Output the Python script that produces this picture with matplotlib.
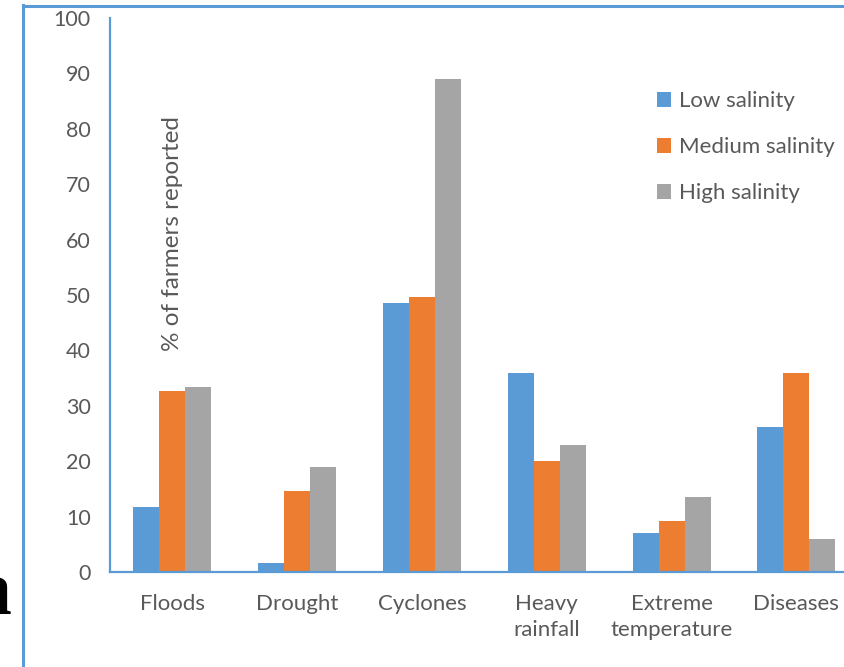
import matplotlib
matplotlib.use('Agg')
import matplotlib.pyplot as plt
from matplotlib.lines import Line2D
import numpy as np

categories = ['Floods', 'Drought', 'Cyclones', 'Heavy\nrainfall', 'Extreme\ntemperature', 'Diseases']
low_salinity = [11.8, 1.6, 48.6, 35.9, 7.0, 26.2]
medium_salinity = [32.7, 14.6, 49.6, 20.0, 9.2, 35.9]
high_salinity = [33.4, 19.0, 89.0, 22.9, 13.5, 6.0]
series_names = ['Low salinity', 'Medium salinity', 'High salinity']
colors = ['#5B9BD5', '#ED7D31', '#A5A5A5']
yticks = list(range(0, 101, 10))

plt.rcParams['font.family'] = ['Lato', 'DejaVu Sans']
text_col = '#595959'
axis_col = '#5B9BD5'

fig = plt.figure(figsize=(8.45, 6.67), dpi=100)
ax = fig.add_axes([110 / 845, 95 / 667, 748.8 / 845, 554 / 667])

x = np.arange(len(categories))
w = 0.208
for i, (vals, name) in enumerate(zip([low_salinity, medium_salinity, high_salinity], series_names)):
    ax.bar(x + (i - 1) * w, vals, width=w, color=colors[i], label=name)

ax.set_xlim(-0.5, len(categories) - 0.5)
ax.set_ylim(0, 100)
ax.set_yticks(yticks)
ax.set_xticks(x)
ax.set_xticklabels(categories, linespacing=1.38)
ax.tick_params(axis='both', length=0, colors=text_col)
ax.tick_params(axis='y', labelsize=15.5, pad=14)
ax.tick_params(axis='x', labelsize=16, pad=16)
for s in ['top', 'right']:
    ax.spines[s].set_visible(False)
for s in ['left', 'bottom']:
    ax.spines[s].set_color(axis_col)
    ax.spines[s].set_linewidth(1.6)

ax.text(0, 61, '% of farmers reported', rotation=90, ha='center', va='center',
        fontsize=17.5, color=text_col)

leg = ax.legend(loc='upper left', bbox_to_anchor=(637 / 845, 1 - 71 / 667),
                bbox_transform=fig.transFigure, frameon=False, fontsize=16,
                handlelength=0.65, handleheight=0.65, handletextpad=0.35,
                labelspacing=1.17)
for t in leg.get_texts():
    t.set_color(text_col)

# outer frame lines of the cropped panel
fig.add_artist(Line2D([23 / 845, 23 / 845], [0, 1 - 5 / 667], color=axis_col, lw=2.2,
                      transform=fig.transFigure))
fig.add_artist(Line2D([23 / 845, 1], [1 - 6 / 667, 1 - 6 / 667], color=axis_col, lw=2.2,
                      transform=fig.transFigure))

# partial panel letter at the left edge
fig.text(11 / 845, 1 - 613 / 667, 'a', ha='right', va='baseline', fontsize=56,
         fontweight='bold', family='Liberation Serif', color='black')

fig.savefig('out.png', dpi=100)
